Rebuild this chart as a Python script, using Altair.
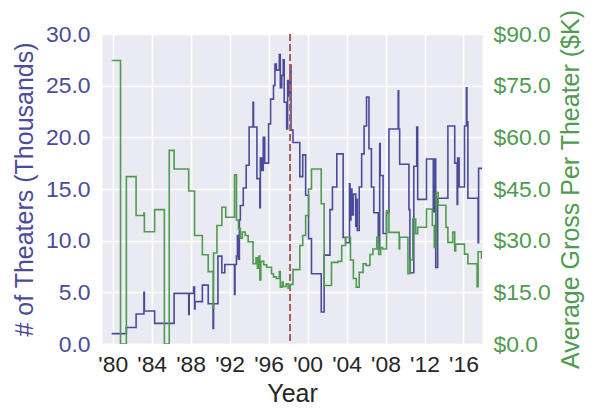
import altair as alt
import pandas as pd

# ---- data ----
theater_years = [1979.9, 1981.4, 1982.4, 1983.2, 1983.25, 1984.3, 1986.3, 1987.8, 1987.85,
                 1988.3, 1988.4, 1988.45, 1989.2, 1989.8, 1990.3, 1990.35, 1990.8, 1991.2,
                 1991.5, 1992.5, 1992.55, 1992.7, 1992.8, 1992.9, 1993.0, 1993.1, 1993.4,
                 1993.7, 1994.0, 1994.4, 1994.45, 1994.8, 1995.1, 1995.15, 1995.3, 1995.45,
                 1995.6, 1996.0, 1996.2, 1996.5, 1996.65, 1996.8, 1997.1, 1997.2, 1997.35,
                 1997.5, 1997.6, 1997.85, 1997.95, 1998.1, 1998.2, 1998.3, 1998.5, 1999.2,
                 1999.5, 1999.8, 2000.1, 2000.4, 2001.4, 2001.7, 2002.3, 2002.55, 2003.0,
                 2003.65, 2003.9, 2004.3, 2004.35, 2004.45, 2004.55, 2004.7, 2004.95, 2005.0,
                 2005.1, 2005.3, 2005.55, 2005.8, 2006.05, 2006.3, 2006.55, 2006.8, 2007.25,
                 2007.4, 2007.45, 2007.75, 2008.1, 2008.35, 2009.3, 2009.35, 2009.45, 2010.4,
                 2010.5, 2010.9, 2011.2, 2011.3, 2012.2, 2012.9, 2013.0, 2013.15, 2013.35,
                 2014.4, 2015.1, 2015.35, 2015.4, 2015.55, 2016.1, 2016.3, 2016.35, 2016.45,
                 2017.5, 2017.55, 2017.9]
theater_vals = [1.0, 1.6, 2.9, 5.0, 3.2, 2.0, 4.9, 2.85, 4.9,
                5.5, 3.4, 4.1, 5.7, 3.9, 1.5, 3.9, 8.5, 6.9,
                7.7, 4.8, 7.7, 8.5, 10.5, 8.2, 12.0, 13.4, 15.1,
                17.3, 21.0, 23.4, 21.0, 16.0, 13.2, 18.0, 16.8, 20.0,
                17.5, 21.3, 23.7, 25.0, 27.1, 26.5, 28.0, 24.8, 26.0,
                27.5, 23.4, 20.8, 25.5, 24.0, 27.0, 20.7, 19.5, 16.2,
                18.3, 14.4, 10.2, 6.8, 3.1, 8.6, 13.0, 15.2, 18.4,
                10.3, 9.8, 15.5, 12.0, 15.0, 12.5, 14.5, 11.4, 14.0,
                11.0, 15.2, 18.4, 21.1, 23.9, 18.9, 15.2, 12.7, 9.2,
                19.4, 16.3, 10.7, 12.7, 20.8, 24.5, 20.8, 17.4, 13.0,
                6.9, 17.2, 21.0, 14.0, 17.9, 12.8, 17.9, 7.4, 14.1,
                21.1, 17.5, 13.5, 18.0, 15.2, 21.1, 24.8, 21.5, 14.1,
                9.8, 17.0, 17.0]

gross_years = [1979.9, 1980.8, 1981.4, 1982.4, 1983.2, 1983.25, 1984.3, 1985.3, 1985.8,
               1986.3, 1987.8, 1988.4, 1989.2, 1989.8, 1990.3, 1990.35, 1990.7, 1991.2,
               1991.6, 1992.5, 1992.7, 1992.9, 1993.1, 1993.3, 1993.6, 1993.9, 1994.4,
               1994.7, 1994.85, 1995.0, 1995.1, 1995.2, 1995.5, 1995.8, 1996.3, 1996.5,
               1996.8, 1997.1, 1997.2, 1997.4, 1997.5, 1997.8, 1998.0, 1998.2, 1998.5,
               1999.2, 1999.5, 1999.8, 2000.1, 2000.4, 2001.4, 2001.7, 2002.45, 2003.1,
               2003.5, 2003.9, 2004.4, 2004.7, 2005.0, 2005.3, 2005.7, 2006.0, 2006.4,
               2006.7, 2007.1, 2007.3, 2007.5, 2007.7, 2008.1, 2008.35, 2009.4, 2009.45,
               2010.3, 2010.5, 2010.8, 2011.1, 2011.3, 2012.2, 2012.8, 2013.0, 2013.2,
               2013.4, 2014.2, 2014.4, 2014.9, 2015.1, 2015.2, 2016.1, 2016.45, 2017.4,
               2017.5, 2017.85, 2017.9]
gross_vals = [82.3, 0.0, 48.6, 37.3, 38.0, 32.6, 39.0, 0.0, 56.2,
              50.8, 44.4, 31.5, 25.9, 21.0, 10.4, 26.4, 34.4, 39.7,
              36.8, 49.1, 36.0, 33.5, 30.7, 32.5, 31.5, 29.7, 23.3,
              25.0, 22.0, 25.5, 18.6, 24.0, 23.0, 22.3, 20.4, 19.5,
              19.0, 21.0, 16.5, 18.0, 16.7, 17.5, 16.2, 17.3, 21.6,
              28.6, 31.5, 37.3, 45.0, 50.8, 40.7, 17.0, 23.7, 24.0,
              28.6, 31.0, 24.4, 19.0, 16.5, 20.8, 23.3, 22.8, 26.0,
              27.6, 31.0, 26.0, 28.0, 27.6, 38.7, 32.4, 27.6, 31.0,
              20.4, 24.4, 36.3, 32.0, 33.9, 39.2, 34.4, 28.0, 44.0,
              40.3, 33.9, 29.5, 32.5, 27.0, 29.0, 26.1, 23.3, 16.6,
              26.8, 25.0, 25.0]

marker_year = [1998.2]
x_ticks = [1980, 1984, 1988, 1992, 1996, 2000, 2004, 2008, 2012, 2016]
left_ticks = [0, 5, 10, 15, 20, 25, 30]
right_ticks = [0, 15, 30, 45, 60, 75, 90]

BLUE = "#4b4b9b"
GREEN = "#4f9b4f"
RED = "#a85e5e"
FONT = "Liberation Sans"

t_df = pd.DataFrame({"year": theater_years, "theaters": theater_vals})
g_df = pd.DataFrame({"year": gross_years, "gross": gross_vals})
m_df = pd.DataFrame({"year": marker_year})

xscale = alt.Scale(domain=[1978.9, 2017.9], nice=False, zero=False)
xaxis = alt.Axis(
    values=x_ticks,
    labelExpr="\"'\" + (datum.value % 100 < 10 ? '0' : '') + (datum.value % 100)",
    title="Year", labelFlush=False, labelOverlap=False,
    labelPadding=9, titlePadding=6, labelColor="#262626", titleColor="#262626",
)

blue = alt.Chart(t_df).mark_line(
    interpolate="step-after", color=BLUE, strokeWidth=1.6, clip=True
).encode(
    x=alt.X("year:Q", scale=xscale, axis=xaxis),
    y=alt.Y("theaters:Q", scale=alt.Scale(domain=[0, 30], nice=False),
            axis=alt.Axis(values=left_ticks, format=".1f", orient="left",
                          title="# of Theaters (Thousands)", labelColor=BLUE,
                          titleColor=BLUE, grid=True, labelPadding=12,
                          titlePadding=8, labelFlush=False)),
)

green = alt.Chart(g_df).mark_line(
    interpolate="step-after", color=GREEN, strokeWidth=1.6, clip=True
).encode(
    x=alt.X("year:Q", scale=xscale, axis=xaxis),
    y=alt.Y("gross:Q", scale=alt.Scale(domain=[0, 90], nice=False),
            axis=alt.Axis(values=right_ticks, format="$.1f", orient="right",
                          title="Average Gross Per Theater ($K)", labelColor=GREEN,
                          titleColor=GREEN, grid=False, labelPadding=11,
                          titlePadding=8, titleAngle=270, titleBaseline="top",
                          labelFlush=False)),
)

rule = alt.Chart(m_df).mark_rule(
    color=RED, strokeDash=[7, 3], strokeWidth=2
).encode(x=alt.X("year:Q", scale=xscale, axis=xaxis))

chart = (
    alt.layer(blue, rule, green)
    .resolve_scale(y="independent")
    .properties(
        width=380, height=310,
        padding={"left": 94, "top": 26, "right": 108, "bottom": 68},
        autosize=alt.AutoSizeParams(type="none"),
        background="white",
    )
    .configure_view(fill="#eaeaf2", strokeOpacity=0)
    .configure_axis(
        labelFont=FONT, titleFont=FONT, labelFontSize=22.9, titleFontSize=25,
        titleFontWeight="normal", domain=False, ticks=False, tickSize=0,
        gridColor="white", gridWidth=1.6, gridOpacity=1,
    )
)

chart.save("out.html", embed_options={"renderer": "svg", "actions": False})
